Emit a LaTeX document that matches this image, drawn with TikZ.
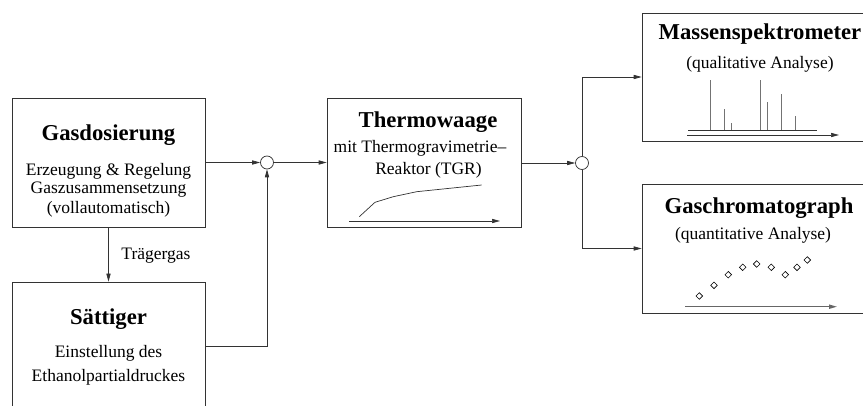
\documentclass[tikz,border=0pt]{standalone}
\usepackage{fontspec}
\setmainfont{Liberation Serif}
\usetikzlibrary{arrows.meta}
\begin{document}
\begin{tikzpicture}[x=1pt,y=-1pt,
  line/.style={draw=black!80,line width=0.7pt},
  arr/.style={line,-{Stealth[length=8pt,width=4.2pt,inset=0pt]}},
  box/.style={line,rectangle,inner sep=0pt},
  junc/.style={line,circle,fill=white,minimum size=13pt,inner sep=0pt},
  ttl/.style={inner sep=0pt,font=\fontsize{22.7}{26}\selectfont\bfseries},
  txt/.style={inner sep=0pt,font=\fontsize{17.5}{21}\selectfont},
  peak/.style={draw=black!55,line width=0.7pt}
]
\useasboundingbox (0,0) rectangle (863,406);
\begin{scope}
\clip (0,0) rectangle (863,406);
% boxes
\node[box,minimum width=193pt,minimum height=129pt] (gd) at (108.5,162.5) {};
\node[box,minimum width=193pt,minimum height=129pt] (sat) at (108.5,346.5) {};
\node[box,minimum width=194pt,minimum height=129pt] (tw) at (424,162.5) {};
\node[box,minimum width=240pt,minimum height=128pt] (ms) at (762,77) {};
\node[box,minimum width=240pt,minimum height=129pt] (gc) at (762,248.5) {};
% junctions
\node[junc] (c1) at (267,162.5) {};
\node[junc] (c2) at (582,163) {};
% texts
\node[ttl] (t1) at (108.5,135.5) {Gasdosierung};
\node[txt] (t1a) at (108.5,171) {Erzeugung \& Regelung};
\node[txt] (t1b) at (108.5,190) {Gaszusammensetzung};
\node[txt] (t1c) at (108.5,209) {(vollautomatisch)};
\node[txt] (tg) at (156,256) {Trägergas};
\node[ttl] (t2) at (108.5,319) {Sättiger};
\node[txt] (t2a) at (108.5,353) {Einstellung des};
\node[txt] (t2b) at (108.5,377) {Ethanolpartialdruckes};
\node[ttl] (t3) at (428,122) {Thermowaage};
\node[txt] (t3a) at (420,148.5) {mit Thermogravimetrie–};
\node[txt] (t3b) at (428.5,170) {Reaktor (TGR)};
\node[ttl] (t4) at (760,34.5) {Massenspektrometer};
\node[txt] (t4a) at (760,64) {(qualitative Analyse)};
\node[ttl] (t5) at (759,208.5) {Gaschromatograph};
\node[txt] (t5a) at (753,235) {(quantitative Analyse)};
% connectors
\draw[arr] (gd.east) -- (c1.west);
\draw[arr] (sat.east) -| (c1.south);
\draw[arr] (gd.south) -- (sat.north);
\draw[arr] (c1.east) -- (tw.west);
\draw[arr] (tw.east |- c2.west) -- (c2.west);
\draw[arr] (c2.north) |- (ms.west);
\draw[arr] (c2.south) |- (gc.west);
% thermowaage curve
\draw[line] (359.3,216.7) -- (375,202.3) -- (393.3,196.7) -- (416.7,191.7) -- (481.7,185);
\draw[arr] (349,221) -- (500,221);
% spectrum
\foreach \x/\y in {710/80,724/109,731/123,760/80,767/102,781/94,795/116}
  \draw[peak] (\x,130) -- (\x,\y);
\draw[line] (688,130) -- (817,130);
\draw[arr] (687,135) -- (839,135);
% chromatogram
\foreach \x/\y in {699.3/296,714/285.3,728.3/274.7,742.7/267.3,756.7/264,771.3/267.3,785.3/274.7,797/267.3,807.3/260}
  \draw[line width=0.6pt] (\x-3.3,\y) -- (\x,\y-3.3) -- (\x+3.3,\y) -- (\x,\y+3.3) -- cycle;
\draw[draw=black!60,line width=1.2pt,-{Stealth[length=8pt,width=4.2pt,inset=0pt]}] (685,306.7) -- (837,306.7);
\end{scope}
\end{tikzpicture}
\end{document}
